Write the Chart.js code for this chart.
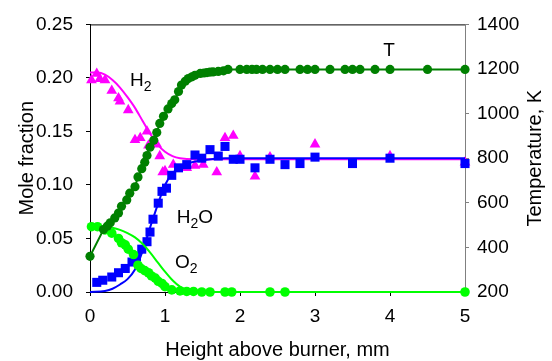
<!DOCTYPE html>
<html>
<head>
<meta charset="utf-8">
<script src="https://cdn.jsdelivr.net/npm/chart.js@4/dist/chart.umd.min.js"></script>
<style>
  html, body { margin: 0; padding: 0; background: #fff; }
</style>
</head>
<body>
<canvas id="chart" width="552" height="361"></canvas>
<script>
// measured points
const tX = [0, 0.18, 0.23, 0.27, 0.33, 0.38, 0.42, 0.49, 0.53, 0.6, 0.64, 0.69, 0.73, 0.76, 0.8, 0.85, 0.89, 0.93, 0.98,
  1.04, 1.09, 1.13, 1.18, 1.22, 1.27, 1.31, 1.36, 1.4, 1.47, 1.52, 1.56, 1.6, 1.64, 1.71, 1.78, 1.84, 2.0, 2.09, 2.16,
  2.22, 2.3, 2.4, 2.5, 2.6, 2.8, 2.9, 3.0, 3.2, 3.4, 3.5, 3.6, 3.8, 4.0, 4.5, 5.0];
const tY = [360, 480, 495, 510, 532, 554, 584, 613, 643, 672, 716, 753, 782, 812, 849, 880, 915, 956, 988,
  1021, 1045, 1062, 1099, 1128, 1145, 1157, 1165, 1172, 1180, 1182, 1184, 1186, 1187, 1189, 1192, 1198, 1198, 1198, 1198,
  1198, 1198, 1198, 1198, 1198, 1198, 1198, 1198, 1198, 1198, 1198, 1198, 1198, 1198, 1198, 1198];

const h2X = [0.02, 0.09, 0.13, 0.2, 0.29, 0.38, 0.4, 0.51, 0.6, 0.67, 0.76, 0.78, 0.89, 0.93, 0.97, 1.0, 1.11, 1.29,
  1.4, 1.51, 1.69, 1.8, 1.91, 2.0, 2.2, 2.4, 3.0, 4.0, 5.0];
const h2Y = [0.198, 0.204, 0.199, 0.198, 0.188, 0.181, 0.178, 0.170, 0.142, 0.144, 0.150, 0.137, 0.138, 0.127, 0.112,
  0.113, 0.119, 0.116, 0.118, 0.119, 0.112, 0.144, 0.146, 0.127, 0.108, 0.126, 0.138, 0.127, 0.121];

const h2oX = [0.09, 0.17, 0.29, 0.38, 0.47, 0.56, 0.62, 0.69, 0.76, 0.8, 0.84, 0.91, 0.96, 1.02, 1.09, 1.18, 1.29, 1.4,
  1.49, 1.6, 1.71, 1.8, 1.91, 2.0, 2.2, 2.4, 2.6, 2.8, 3.0, 3.5, 4.0, 5.0];
const h2oY = [0.009, 0.011, 0.014, 0.018, 0.022, 0.028, 0.033, 0.040, 0.047, 0.056, 0.068, 0.083, 0.094, 0.097, 0.109,
  0.116, 0.119, 0.128, 0.125, 0.133, 0.127, 0.136, 0.124, 0.124, 0.116, 0.124, 0.119, 0.120, 0.126, 0.120, 0.125, 0.120];

const o2X = [0.02, 0.1, 0.2, 0.29, 0.38, 0.42, 0.47, 0.51, 0.58, 0.64, 0.68, 0.73, 0.78, 0.82, 0.87, 0.91, 0.96, 1.0,
  1.09, 1.2, 1.29, 1.38, 1.49, 1.6, 1.8, 1.89, 2.4, 2.6, 5.0];
const o2Y = [0.061, 0.061, 0.058, 0.055, 0.050, 0.046, 0.044, 0.040, 0.035, 0.025, 0.022, 0.020, 0.018, 0.015, 0.013,
  0.010, 0.008, 0.005, 0.002, 0.001, 0.0005, 0.0005, 0, 0, 0, 0, 0, 0, 0];

// model curves
const h2ModelX = [0, 0.1, 0.2, 0.3, 0.4, 0.5, 0.6, 0.7, 0.8, 0.9, 1.0, 1.1, 1.2, 1.4, 1.6, 2, 3, 4, 5];
const h2ModelY = [0.205, 0.205, 0.203, 0.198, 0.191, 0.182, 0.172, 0.160, 0.148, 0.138, 0.131, 0.127, 0.125, 0.124,
  0.124, 0.124, 0.124, 0.124, 0.124];
const h2oModelX = [0, 0.2, 0.3, 0.4, 0.5, 0.6, 0.7, 0.8, 0.9, 1.0, 1.1, 1.2, 1.3, 1.5, 1.8, 2, 3, 4, 5];
const h2oModelY = [0, 0.001, 0.003, 0.007, 0.012, 0.021, 0.038, 0.060, 0.081, 0.100, 0.111, 0.117, 0.120, 0.123,
  0.125, 0.125, 0.125, 0.125, 0.125];
const o2ModelX = [0, 0.2, 0.3, 0.4, 0.5, 0.6, 0.7, 0.8, 0.9, 1.0, 1.1, 1.2, 1.3, 1.4, 1.6, 2, 5];
const o2ModelY = [0.061, 0.061, 0.060, 0.058, 0.055, 0.051, 0.045, 0.037, 0.028, 0.019, 0.011, 0.005, 0.002, 0.001,
  0, 0, 0];

// in-plot labels: [main, subscript, tail, x (mm), y (mole fraction)]
const labels = [
  ['H', '2', '', 0.533, 0.1925],
  ['H', '2', 'O', 1.156, 0.0649],
  ['O', '2', '', 1.133, 0.0225],
  ['T', '', '', 3.91, 0.2205]
];

const FONT = '"Liberation Sans", Arial, sans-serif';
const pts = (xs, ys) => xs.map((x, i) => ({ x, y: ys[i] }));

const decor = {
  id: 'decor',
  afterDraw(chart) {
    const { ctx, chartArea: a, scales } = chart;
    ctx.save();
    // top frame
    ctx.strokeStyle = '#000';
    ctx.lineWidth = 1;
    ctx.beginPath();
    ctx.moveTo(a.left, a.top + 0.5);
    ctx.lineTo(a.right, a.top + 0.5);
    ctx.stroke();

    // labels inside the plot
    ctx.fillStyle = '#000';
    ctx.textBaseline = 'alphabetic';
    ctx.textAlign = 'left';
    labels.forEach(([main, sub, tail, x, y]) => {
      let px = scales.x.getPixelForValue(x);
      const py = scales.y.getPixelForValue(y);
      ctx.font = '19px ' + FONT;
      ctx.fillText(main, px, py);
      px += ctx.measureText(main).width;
      if (sub) {
        ctx.font = '14px ' + FONT;
        ctx.fillText(sub, px, py + 5);
        px += ctx.measureText(sub).width;
      }
      if (tail) {
        ctx.font = '19px ' + FONT;
        ctx.fillText(tail, px, py);
      }
    });

    // axis titles
    ctx.font = '20px ' + FONT;
    ctx.textAlign = 'center';
    ctx.fillText('Height above burner, mm', (a.left + a.right) / 2, 356);
    const midY = (a.top + a.bottom) / 2;
    ctx.save();
    ctx.translate(33, midY);
    ctx.rotate(-Math.PI / 2);
    ctx.fillText('Mole fraction', 0, 0);
    ctx.restore();
    ctx.save();
    ctx.translate(541, midY);
    ctx.rotate(-Math.PI / 2);
    ctx.fillText('Temperature, K', 0, 0);
    ctx.restore();
    ctx.restore();
  }
};

const tickFont = { family: FONT, size: 19 };

new Chart(document.getElementById('chart'), {
  type: 'scatter',
  data: {
    datasets: [
      { data: pts(tX, tY), yAxisID: 'y1', showLine: true, borderColor: '#008000', borderWidth: 2,
        backgroundColor: '#008000', pointRadius: 4.6, pointBorderWidth: 0, pointStyle: 'circle' },
      { data: pts(o2ModelX, o2ModelY), yAxisID: 'y', showLine: true, borderColor: '#00ff00', borderWidth: 2,
        cubicInterpolationMode: 'monotone', pointRadius: 0 },
      { data: pts(o2X, o2Y), yAxisID: 'y', backgroundColor: '#00ff00', pointRadius: 4.8, pointBorderWidth: 0 },
      { data: pts(h2oModelX, h2oModelY), yAxisID: 'y', showLine: true, borderColor: '#0000ff', borderWidth: 2,
        cubicInterpolationMode: 'monotone', pointRadius: 0 },
      { data: pts(h2oX, h2oY), yAxisID: 'y', backgroundColor: '#0000ff', pointStyle: 'rect', pointRadius: 6.4,
        pointBorderWidth: 0 },
      { data: pts(h2ModelX, h2ModelY), yAxisID: 'y', showLine: true, borderColor: '#ff00ff', borderWidth: 2,
        cubicInterpolationMode: 'monotone', pointRadius: 0 },
      { data: pts(h2X, h2Y), yAxisID: 'y', backgroundColor: '#ff00ff', pointStyle: 'triangle', pointRadius: 6.2,
        pointBorderWidth: 0 }
    ].map(d => Object.assign({ clip: false }, d))
  },
  options: {
    responsive: false,
    animation: false,
    devicePixelRatio: 1,
    layout: { padding: { top: 21, left: 0, right: 0, bottom: 0 } },
    plugins: { legend: { display: false }, tooltip: { enabled: false } },
    elements: { point: { hoverRadius: 0 } },
    scales: {
      x: {
        type: 'linear', min: 0, max: 5,
        ticks: { stepSize: 1, color: '#000', font: tickFont, padding: 9, maxRotation: 0, callback: v => String(v) },
        grid: { drawOnChartArea: false, drawTicks: true, tickLength: 4, color: '#000' },
        border: { color: '#000', width: 1 },
        afterFit(s) { s.height = 69; }
      },
      y: {
        position: 'left', min: 0, max: 0.25,
        ticks: { stepSize: 0.05, color: '#000', font: tickFont, padding: 13, callback: v => v.toFixed(2) },
        grid: { drawOnChartArea: false, drawTicks: true, tickLength: 4, color: '#000' },
        border: { color: '#000', width: 1 },
        afterFit(s) { s.width = 90; }
      },
      y1: {
        position: 'right', min: 200, max: 1400,
        ticks: { stepSize: 200, color: '#000', font: tickFont, padding: 8, callback: v => String(v) },
        grid: { drawOnChartArea: false, drawTicks: true, tickLength: 4, color: '#808080' },
        border: { color: '#808080', width: 1 },
        afterFit(s) { s.width = 87; }
      }
    }
  },
  plugins: [decor]
});
</script>
</body>
</html>
